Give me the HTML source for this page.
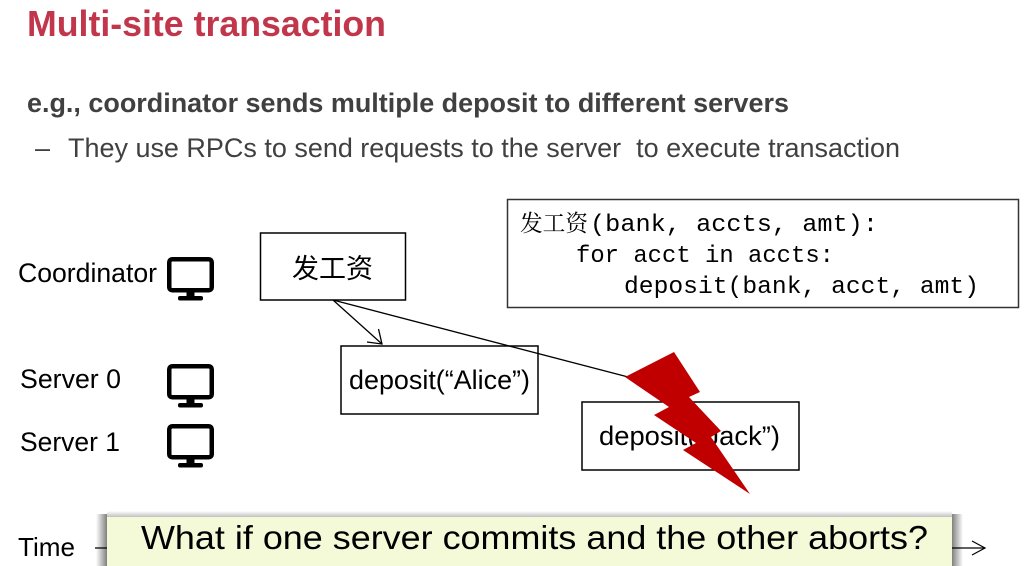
<!DOCTYPE html>
<html>
<head>
<meta charset="utf-8">
<style>
html,body{margin:0;padding:0;background:#fff;}
svg{display:block;}
</style>
</head>
<body>
<svg width="1024" height="566" viewBox="0 0 1024 566" xmlns="http://www.w3.org/2000/svg">
  <defs>
    <linearGradient id="shL" x1="0" y1="0" x2="1" y2="0">
      <stop offset="0" stop-color="#000" stop-opacity="0"/>
      <stop offset="1" stop-color="#000" stop-opacity="0.5"/>
    </linearGradient>
    <linearGradient id="shR" x1="0" y1="0" x2="1" y2="0">
      <stop offset="0" stop-color="#000" stop-opacity="0.5"/>
      <stop offset="1" stop-color="#000" stop-opacity="0"/>
    </linearGradient>
    <linearGradient id="shT" x1="0" y1="0" x2="0" y2="1">
      <stop offset="0" stop-color="#000" stop-opacity="0"/>
      <stop offset="1" stop-color="#000" stop-opacity="0.25"/>
    </linearGradient>
    <g id="mon">
      <rect x="2.25" y="2.25" width="42.5" height="31" rx="3" ry="3" fill="none" stroke="#000" stroke-width="4.5"/>
      <rect x="19.5" y="34" width="8" height="6" fill="#000"/>
      <rect x="11" y="39" width="25" height="4.5" rx="2" ry="2" fill="#000"/>
    </g>
  </defs>
  <rect width="1024" height="566" fill="#fff"/>

  <!-- Title -->
  <text x="27" y="36" font-family="'Liberation Sans', sans-serif" font-weight="bold" font-size="36" fill="#C1364B" textLength="359" lengthAdjust="spacingAndGlyphs">Multi-site transaction</text>

  <!-- Subtitle -->
  <text x="27" y="112" font-family="'Liberation Sans', sans-serif" font-weight="bold" font-size="27" fill="#404040" textLength="762" lengthAdjust="spacingAndGlyphs">e.g., coordinator sends multiple deposit to different servers</text>

  <!-- Bullet -->
  <text x="35" y="157" font-family="'Liberation Sans', sans-serif" font-size="27" fill="#404040">–</text>
  <text x="68" y="157" font-family="'Liberation Sans', sans-serif" font-size="27" fill="#404040" textLength="832" lengthAdjust="spacingAndGlyphs">They use RPCs to send requests to the server&#160; to execute transaction</text>

  <!-- Code box -->
  <rect x="507.5" y="199.5" width="511" height="108" fill="#fff" stroke="#333" stroke-width="1.5"/>
  <text x="520" y="231" font-family="'Liberation Serif', 'Noto Serif CJK SC', serif" font-size="23" fill="#000" textLength="68" lengthAdjust="spacingAndGlyphs">发工资</text>
  <text x="590" y="231" font-family="'Liberation Mono', monospace" font-size="24.5" fill="#000" textLength="288" lengthAdjust="spacingAndGlyphs">(bank, accts, amt):</text>
  <text x="576" y="262" font-family="'Liberation Mono', monospace" font-size="24.5" fill="#000" textLength="258" lengthAdjust="spacingAndGlyphs">for acct in accts:</text>
  <text x="624" y="293" font-family="'Liberation Mono', monospace" font-size="24.5" fill="#000" textLength="355" lengthAdjust="spacingAndGlyphs">deposit(bank, acct, amt)</text>

  <!-- Left labels -->
  <text x="18" y="282" font-family="'Liberation Sans', sans-serif" font-size="26.5" fill="#000" textLength="139" lengthAdjust="spacingAndGlyphs">Coordinator</text>
  <text x="20" y="388" font-family="'Liberation Sans', sans-serif" font-size="26.5" fill="#000" textLength="101" lengthAdjust="spacingAndGlyphs">Server 0</text>
  <text x="20" y="451" font-family="'Liberation Sans', sans-serif" font-size="26.5" fill="#000" textLength="100" lengthAdjust="spacingAndGlyphs">Server 1</text>

  <!-- Monitors -->
  <use href="#mon" x="167" y="257"/>
  <use href="#mon" x="167" y="364"/>
  <use href="#mon" x="167" y="424"/>

  <!-- Coordinator box -->
  <rect x="260.5" y="233" width="145" height="67" fill="#fff" stroke="#000" stroke-width="1.5"/>
  <text x="292" y="278" font-family="'Liberation Sans', 'Noto Sans CJK SC', sans-serif" font-size="27" fill="#000" textLength="81" lengthAdjust="spacingAndGlyphs">发工资</text>

  <!-- Deposit boxes -->
  <rect x="341" y="346" width="197" height="68" fill="#fff" stroke="#000" stroke-width="1.5"/>
  <text x="349" y="389" font-family="'Liberation Sans', sans-serif" font-size="27" fill="#000" textLength="181" lengthAdjust="spacingAndGlyphs">deposit(“Alice”)</text>

  <rect x="582" y="402" width="217" height="68" fill="#fff" stroke="#000" stroke-width="1.5"/>
  <text x="599" y="445" font-family="'Liberation Sans', sans-serif" font-size="27" fill="#000" textLength="181" lengthAdjust="spacingAndGlyphs">deposit(“Jack”)</text>

  <!-- Connectors -->
  <line x1="333" y1="300" x2="382" y2="344" stroke="#000" stroke-width="1.3"/>
  <polyline points="378.5,329 382,344 367,342" fill="none" stroke="#000" stroke-width="1.3"/>
  <line x1="333" y1="300" x2="632" y2="378" stroke="#000" stroke-width="1.3"/>

  <!-- Lightning bolt -->
  <polygon points="625,377 674,352 700,392 689,397 721,431 711,437 750,494 683,450 696,443 654,415 669,407" fill="#C00000"/>

  <!-- Time axis -->
  <text x="18" y="556" font-family="'Liberation Sans', sans-serif" font-size="26" fill="#000" textLength="57" lengthAdjust="spacingAndGlyphs">Time</text>
  <line x1="95" y1="548" x2="985" y2="548" stroke="#000" stroke-width="1.2"/>
  <polyline points="972,541 985,548 972,555" fill="none" stroke="#000" stroke-width="1.2"/>

  <!-- Banner -->
  <rect x="107" y="511" width="845" height="6" fill="url(#shT)"/>
  <rect x="96" y="514" width="11" height="52" fill="url(#shL)"/>
  <rect x="952" y="514" width="11" height="52" fill="url(#shR)"/>
  <rect x="107" y="517" width="845" height="49" fill="#F4F9D8"/>
  <text x="141" y="549" font-family="'Liberation Sans', sans-serif" font-size="33" fill="#000" textLength="787" lengthAdjust="spacingAndGlyphs">What if one server commits and the other aborts?</text>
</svg>
</body>
</html>
